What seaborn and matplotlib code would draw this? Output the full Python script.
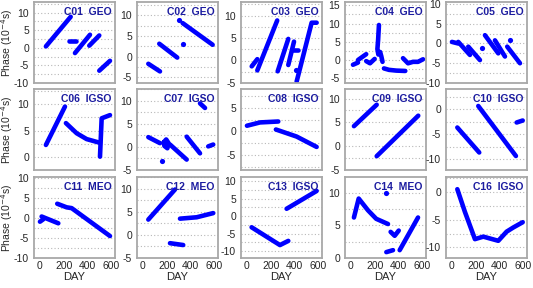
import matplotlib
matplotlib.use('Agg')
import matplotlib.pyplot as plt
from matplotlib.ticker import MultipleLocator
import numpy as np
import pandas as pd
import seaborn as sns

# panel labels, row by row
labels = ['C01  GEO', 'C02  GEO', 'C03  GEO', 'C04  GEO', 'C05  GEO',
          'C06  IGSO', 'C07  IGSO', 'C08  IGSO', 'C09  IGSO', 'C10  IGSO',
          'C11  MEO', 'C12  MEO', 'C13  IGSO', 'C14  MEO', 'C16  IGSO']

# segments (day, phase), isolated points separately
C01 = [[(50, 0.4), (258, 8.8)], [(241, 2.0), (302, 2.0)], [(294, -1.5), (420, 3.7)],
       [(414, 0.6), (498, 3.5)], [(498, -6.5), (588, -3.7)]]
C01_dots = []
C02 = [[(45, -1.75), (143, -3.6)], [(137, 3.1), (288, -0.25)], [(333, 8.1), (585, 2.85)]]
C02_dots = [(305, 8.9), (333, 3.1)]
C03 = [[(40, -1.3), (87, 0.3)], [(87, -2.2), (254, 8.9)], [(258, -2.4), (347, 4.8)],
       [(347, -1.0), (395, 4.2)], [(389, 2.4), (426, 2.4)], [(417, -4.7), (543, 8.4), (585, 8.4)]]
C03_dots = [(411, -2.2)]
C04 = [[(17, -1.3), (59, -0.7)], [(59, 0.0), (128, 1.6)], [(128, -0.3), (160, -0.9), (199, 0.3)],
       [(235, 9.6), (228, 5.5), (222, 3.0), (230, 1.5), (245, 2.2), (255, 1.0), (265, -0.5)],
       [(277, -2.3), (320, -2.7), (380, -2.9), (456, -3.0)],
       [(437, 0.5), (479, -0.9), (521, -0.5), (563, -0.5), (605, 0.2)]]
C04_dots = []
C05 = [[(0, 0.4), (53, 0.0)], [(53, 0.4), (151, -2.9)], [(137, -0.8), (235, -4.2)],
       [(277, 2.1), (389, -2.5)], [(361, 0.8), (445, -3.3)], [(464, -0.8), (571, -5.0)]]
C05_dots = [(249, -1.25), (487, 0.8)]
C06 = [[(50, 2.3), (210, 9.5)], [(218, 6.4), (308, 4.5), (392, 3.4), (504, 2.7)],
       [(504, 0.1), (518, 7.3), (588, 7.9)]]
C06_dots = []
C07 = [[(45, 2.1), (143, 0.8)], [(175, 1.0), (195, 1.6), (215, 0.8), (205, -0.3), (180, 0.2), (175, 1.0)],
       [(227, 0.5), (367, -2.75)], [(367, 2.2), (479, -1.4)], [(548, 0.1), (590, 0.5)],
       [(479, 9.4), (521, 8.4)]]
C07_dots = [(157, -3.1)]
C08 = [[(0, 1.2), (109, 1.9), (263, 2.1)], [(243, 0.4), (417, -1.1), (585, -3.3)]]
C08_dots = []
C09 = [[(25, 4.2), (216, 8.7)], [(216, -2.1), (565, 6.4)]]
C09_dots = []
C10 = [[(45, -3.7), (229, -8.7)], [(221, 0.6), (537, -9.4)], [(543, -2.7), (594, -2.3)]]
C10_dots = []
C11 = [[(0, -0.9), (28, -0.3)], [(14, 0.4), (154, -1.3)], [(145, 3.6), (224, 2.7), (266, 2.5), (588, -4.5)]]
C11_dots = []
C12 = [[(45, 3.3), (269, 9.8)], [(227, -1.8), (338, -2.2)], [(311, 3.5), (451, 3.8), (590, 4.7)]]
C12_dots = []
C13 = [[(39, -3.2), (277, -8.3), (347, -7.1)], [(333, 2.1), (585, 7.2)]]
C13_dots = []
C14 = [[(25, 6.2), (65, 9.1), (143, 7.3), (212, 6.0), (311, 5.2)],
       [(333, 4.0), (367, 3.4), (401, 4.2)], [(297, 0.9), (353, 1.2)], [(409, 1.2), (563, 6.2)]]
C14_dots = [(297, 10.0)]
C16 = [[(45, 0.5), (109, -3.6), (193, -8.5), (263, -8.05), (389, -8.8), (459, -7.15), (515, -6.4), (594, -5.45)]]
C16_dots = []

panels = [(C01, C01_dots), (C02, C02_dots), (C03, C03_dots), (C04, C04_dots), (C05, C05_dots),
          (C06, C06_dots), (C07, C07_dots), (C08, C08_dots), (C09, C09_dots), (C10, C10_dots),
          (C11, C11_dots), (C12, C12_dots), (C13, C13_dots), (C14, C14_dots), (C16, C16_dots)]

ylims = [(-10, 13), (-6.4, 13.2), (-5, 13), (-6.3, 15.9), (-10, 10.5),
         (-2.4, 12.8), (-5, 12.5), (-8.2, 9), (-5, 12), (-12.2, 4),
         (-10, 10.3), (-5, 12.5), (-12, 11.2), (0, 12.4), (-11.9, 2.7)]

sns.set_style('white')
plt.rcParams['font.family'] = ['Liberation Sans', 'DejaVu Sans']
plt.rcParams['axes.unicode_minus'] = False

W, H = 533, 288
fig = plt.figure(figsize=(W / 100, H / 100), dpi=100)

col_left = [34, 137, 241, 345, 446]
row_top = [2, 89, 177]
aw, ah = 81, 81

for i, (segs, dots) in enumerate(panels):
    r, c = divmod(i, 5)
    ax = fig.add_axes([col_left[c] / W, 1 - (row_top[r] + ah) / H, aw / W, ah / H])

    rows = []
    for k, seg in enumerate(segs):
        for d, p in seg:
            rows.append((k, d, p))
    df = pd.DataFrame(rows, columns=['seg', 'day', 'phase'])
    sns.lineplot(data=df, x='day', y='phase', units='seg', estimator=None, sort=False,
                 color='#0000ff', lw=3.3, solid_capstyle='round', ax=ax, legend=False)
    if dots:
        sns.scatterplot(x=[d for d, p in dots], y=[p for d, p in dots], color='#0000ff',
                        s=14, linewidth=0, ax=ax, legend=False)

    ax.set_xlim(-50, 630)
    ax.set_ylim(*ylims[i])
    ax.xaxis.set_major_locator(MultipleLocator(200))
    ax.xaxis.set_minor_locator(MultipleLocator(100))
    ax.yaxis.set_major_locator(MultipleLocator(5))
    ax.yaxis.set_minor_locator(MultipleLocator(2.5))
    ax.grid(True, axis='y', which='both', ls=(0, (1, 2)), color='#b8b8b8', lw=0.8)
    ax.tick_params(axis='x', which='both', direction='in', length=2.5, color='#999999',
                   labelsize=7.5, pad=2)
    ax.tick_params(axis='y', which='major', direction='out', length=2, color='#999999',
                   labelsize=7.5, pad=1.5)
    ax.tick_params(axis='y', which='minor', length=0)
    for s in ax.spines.values():
        s.set_color('#a8a8a8')
        s.set_linewidth(1.3)

    ax.text(0.955, 0.935, labels[i], transform=ax.transAxes, ha='right', va='top',
            color='#1c1ca0', fontsize=7.5, fontweight='bold')

    ax.set_xlabel('')
    ax.set_ylabel('')
    if r < 2:
        ax.set_xticklabels([])
    else:
        ax.set_xlabel('DAY', fontsize=8, labelpad=1)
    if c == 0:
        ax.set_ylabel('Phase (10$^{-4}$s)', fontsize=7.5)
        ax.yaxis.set_label_coords(-0.24, 0.5)

fig.savefig('out.png', dpi=100)
